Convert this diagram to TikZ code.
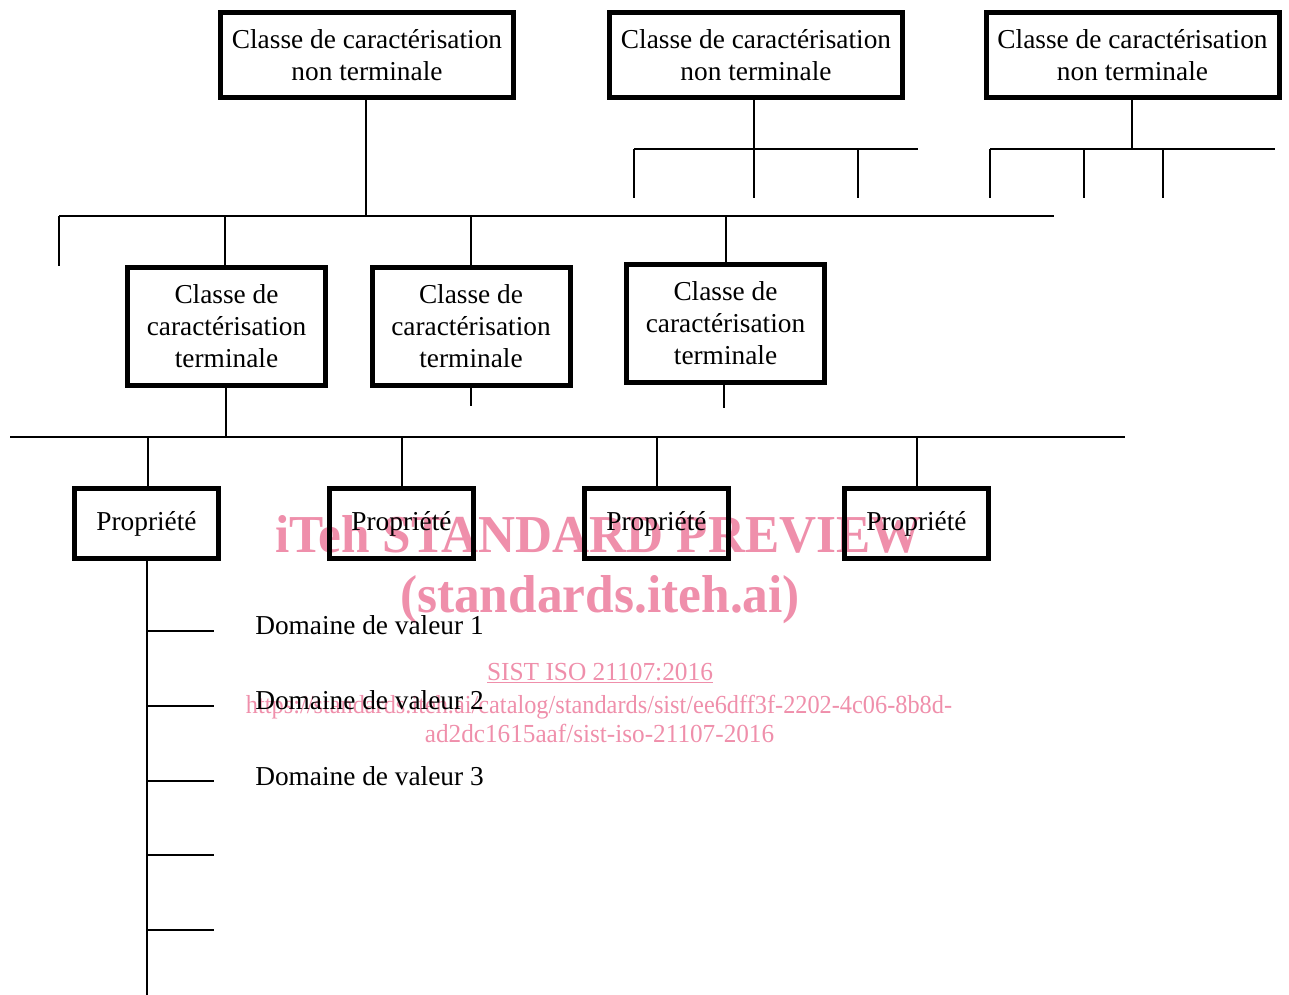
\documentclass[tikz,border=0pt]{standalone}
\usepackage{fontspec}
\usepackage{graphicx}
\setmainfont{Liberation Serif}
\definecolor{wmpink}{RGB}{239,143,171}
\tikzset{
  box/.style={draw=black, line width=3.75pt, fill=white, inner sep=0pt, align=center,
    font=\fontsize{20.5}{24}\selectfont},
  topbox/.style={box, minimum width=219.75pt, minimum height=63.75pt},
  termbox/.style={box, minimum width=148.5pt, minimum height=88.5pt},
  propbox/.style={box, minimum width=108pt, minimum height=52.5pt},
  conn/.style={draw=black, line width=1.6pt},
  dlabel/.style={anchor=base west, inner sep=0pt, font=\fontsize{20.5}{24}\selectfont},
  wm/.style={anchor=base, inner sep=0pt, text=wmpink}
}
\begin{document}
\begin{tikzpicture}[x=0.75pt,y=-0.75pt]
\useasboundingbox (0,0) rectangle (1289,995);

% ---------- coordinates for buses and free ends
\coordinate (b1L) at (59,216);
\coordinate (b1R) at (1054,216);
\coordinate (b1E) at (59,266);
\coordinate (b2L) at (634,149);
\coordinate (b2R) at (918,149);
\coordinate (b2a) at (634,198);
\coordinate (b2b) at (754,198);
\coordinate (b2c) at (858,198);
\coordinate (b3L) at (990,149);
\coordinate (b3R) at (1275,149);
\coordinate (b3a) at (990,198);
\coordinate (b3b) at (1084,198);
\coordinate (b3c) at (1163,198);
\coordinate (b4L) at (10,437);
\coordinate (b4R) at (1125,437);
\coordinate (t2s) at (471,406);
\coordinate (t3s) at (724,408);
\coordinate (pend) at (147,995);
\foreach \i/\y in {1/631,2/706,3/781,4/855,5/930}{
  \coordinate (tk\i a) at (147,\y);
  \coordinate (tk\i b) at (214,\y);
}

% ---------- connectors (drawn first, boxes cover them)
\draw[conn] (366,100) coordinate (top1c) -- (366,216) coordinate (b1m);
\draw[conn] (b1L) -- (b1R);
\draw[conn] (b1L) -- (b1E);
\draw[conn] (225,216) -- (225,266) coordinate (t1n);
\draw[conn] (471,216) -- (471,265) coordinate (t2n);
\draw[conn] (726,216) -- (726,263) coordinate (t3n);

\draw[conn] (754,100) -- (754,149);
\draw[conn] (b2L) -- (b2R);
\draw[conn] (b2L) -- (b2a);
\draw[conn] (754,149) -- (b2b);
\draw[conn] (858,149) -- (b2c);

\draw[conn] (1132,100) -- (1132,149);
\draw[conn] (b3L) -- (b3R);
\draw[conn] (b3L) -- (b3a);
\draw[conn] (1084,149) -- (b3b);
\draw[conn] (1163,149) -- (b3c);

\draw[conn] (226,388) -- (226,437);
\draw[conn] (b4L) -- (b4R);
\draw[conn] (471,386) -- (t2s);
\draw[conn] (724,383) -- (t3s);
\foreach \x in {148,402,657,917}{
  \draw[conn] (\x,437) -- (\x,487);
}
\draw[conn] (147,560) -- (pend);
\foreach \i in {1,...,5}{
  \draw[conn] (tk\i a) -- (tk\i b);
}

% ---------- boxes
\node[topbox] (top1) at (367,55) {Classe de caractérisation\\non terminale};
\node[topbox] (top2) at (756,55) {Classe de caractérisation\\non terminale};
\node[topbox] (top3) at (1132.5,55) {Classe de caractérisation\\non terminale};

\node[termbox] (t1) at (226.5,326.5) {Classe de\\caractérisation\\terminale};
\node[termbox] (t2) at (471,326) {Classe de\\caractérisation\\terminale};
\node[termbox] (t3) at (725.5,323.5) {Classe de\\caractérisation\\terminale};

\node[propbox] (p1) at (146.5,523.5) {Propriété};
\node[propbox] (p2) at (401.5,523.5) {Propriété};
\node[propbox] (p3) at (656.5,523.5) {Propriété};
\node[propbox] (p4) at (916.5,523.5) {Propriété};

\node[dlabel] (d1) at (255,634) {Domaine de valeur 1};
\node[dlabel] (d2) at (255,709) {Domaine de valeur 2};
\node[dlabel] (d3) at (255,785) {Domaine de valeur 3};

% ---------- watermark
\begin{scope}[blend mode=multiply]
\node[wm] (wm1) at (598.5,552) {\resizebox{485pt}{\height}{\fontsize{40}{44}\selectfont\bfseries iTeh STANDARD PREVIEW}};
\node[wm] (wm2) at (600,612) {\resizebox{300pt}{\height}{\fontsize{40}{44}\selectfont\bfseries (standards.iteh.ai)}};
\node[wm] (wm3) at (600,680) {\resizebox{169.5pt}{\height}{\fontsize{19.5}{22}\selectfont\underline{SIST ISO 21107:2016}}};
\node[wm] (wm4) at (599,713) {\resizebox{529.5pt}{\height}{\fontsize{19.5}{22}\selectfont https://standards.iteh.ai/catalog/standards/sist/ee6dff3f-2202-4c06-8b8d-}};
\node[wm] (wm5) at (599.5,742) {\resizebox{262pt}{\height}{\fontsize{19.5}{22}\selectfont ad2dc1615aaf/sist-iso-21107-2016}};
\end{scope}
\end{tikzpicture}
\end{document}
